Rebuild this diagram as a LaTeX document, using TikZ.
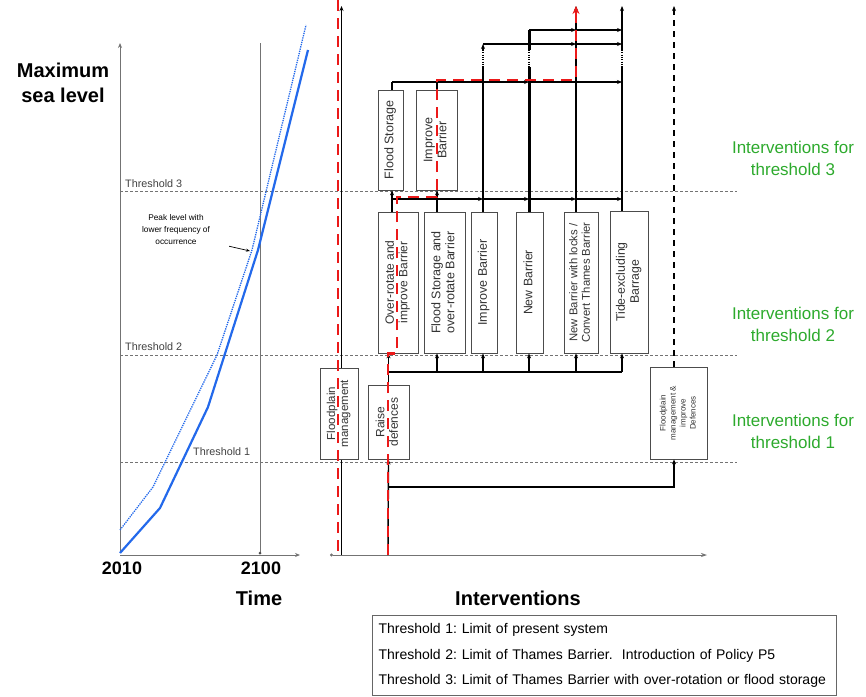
\documentclass[tikz,border=0pt]{standalone}
\usepackage{fontspec}
\setmainfont{Liberation Sans}
\usepackage{graphicx}
\usetikzlibrary{arrows.meta, positioning, calc}

\definecolor{SeaBlue}{RGB}{35, 105, 235}
\definecolor{RouteRed}{RGB}{235, 25, 25}
\definecolor{LabelGreen}{RGB}{45, 170, 45}
\definecolor{AxisGrey}{RGB}{115, 115, 115}

\newcommand{\vlabel}[1]{\rotatebox{90}{\begin{tabular}{@{}c@{}}#1\end{tabular}}}
\frenchspacing

\begin{document}
\begin{tikzpicture}[x=1pt, y=-1pt, >={Stealth[length=5pt, width=4pt]},
    every node/.style={inner sep=0pt},
    optbox/.style={draw=black!70, line width=0.8pt, fill=white, align=center, text=black!80},
    thr/.style={black!55, line width=0.7pt, dash pattern=on 3pt off 2pt},
    link/.style={black, line width=1.4pt},
    lane/.style={black, line width=2pt},
    route/.style={RouteRed, line width=2.8pt, dash pattern=on 11pt off 7pt},
    axis/.style={AxisGrey, line width=0.8pt},
    greenlabel/.style={LabelGreen, align=center, font=\fontsize{17}{22}\selectfont},
    biglabel/.style={align=center, font=\fontsize{20}{25}\selectfont\bfseries}]
    \useasboundingbox (0,0) rectangle (866,696);

    % lanes and bus heights
    \foreach \n/\x in {1/392, 2/437, 3/483, 4/529, 5/576, 6/622, 7/674}
        \coordinate (L\n) at (\x,0);
    \coordinate (top) at (0,6);
    \coordinate (bus0) at (0,487);
    \coordinate (bus1) at (0,372);
    \coordinate (bus2) at (0,199);
    \coordinate (bus3) at (0,82);
    \coordinate (bus4) at (0,44);
    \coordinate (bus5) at (0,30);
    \coordinate (redturn) at (0,197);
    \coordinate (redtop) at (0,80);
    \coordinate (gapa) at (0,50);
    \coordinate (gapb) at (0,67);
    \coordinate (o1) at (341.5,555);
    \coordinate (o2) at (388,555);
    \coordinate (r1) at (338,0);
    \coordinate (r2) at (338,555);

    % sea level chart
    \node[biglabel] (ylab) at (63,83) {Maximum\\sea level};
    \draw[axis, ->] (120,553) -- (120,43);
    \draw[axis] (260,43) -- (260,553);
    \draw[axis, ->] (120,555) -- (300,555);
    \fill[black!70] (260,553) circle (1.5pt);
    \node[font=\fontsize{18}{20}\selectfont\bfseries] (y2010) at (122,568) {2010};
    \node[font=\fontsize{18}{20}\selectfont\bfseries] (y2100) at (261,568) {2100};
    \node[biglabel] (tlab) at (259,598) {Time};

    % thresholds
    \draw[thr] (120,191) -- (737,191);
    \draw[thr] (120,355) -- (737,355);
    \draw[thr] (120,462) -- (737,462);
    \node[anchor=base west, font=\fontsize{10.8}{12}\selectfont, text=black!75] (t3lab) at (125,187) {Threshold 3};
    \node[anchor=base west, font=\fontsize{10.8}{12}\selectfont, text=black!75] (t2lab) at (125,350) {Threshold 2};
    \node[anchor=base west, font=\fontsize{10.8}{12}\selectfont, text=black!75] (t1lab) at (193,455) {Threshold 1};

    % sea level curves
    \draw[SeaBlue, line width=2.2pt, line join=round] (120,553) -- (160,508) -- (208,407) -- (258,250) -- (308,50);
    \draw[SeaBlue, line width=1.3pt, densely dotted] (120,530) -- (153,487) -- (217,355) -- (252,250) -- (306,25);
    \node[align=center, font=\fontsize{8.3}{12}\selectfont] (peak) at (176,230) {Peak level with\\lower frequency of\\occurrence};
    \draw[->, line width=0.7pt, >={Stealth[length=4pt, width=3pt]}] ([xshift=19pt, yshift=-1pt]peak.south east) -- (250,251);

    % interventions axis
    \draw[black, line width=1.4pt, ->] (o1) -- (o1 |- top);
    \draw[axis, {Circle[length=3pt]}-{Stealth[length=6pt, width=4pt]}] (330,555) -- (707,555);
    \node[biglabel] (ilab) at (518,598) {Interventions};

    % options
    \node[optbox, minimum width=25pt, minimum height=100pt, font=\fontsize{12.5}{14}\selectfont] (fs3) at (390.5,140) {\vlabel{Flood Storage}};
    \node[optbox, minimum width=41pt, minimum height=100pt, font=\fontsize{12.5}{14}\selectfont] (ib3) at (436.5,140) {\vlabel{Improve\\Barrier}};
    \node[optbox, minimum width=40pt, minimum height=141pt, font=\fontsize{12}{13.5}\selectfont] (b1) at (398,282.5) {\vlabel{Over-rotate and\\improve Barrier}};
    \node[optbox, minimum width=41pt, minimum height=141pt, font=\fontsize{12.5}{14}\selectfont] (b2) at (444.5,282.5) {\vlabel{Flood Storage and\\over-rotate Barrier}};
    \node[optbox, minimum width=26pt, minimum height=141pt, font=\fontsize{12.5}{14}\selectfont] (b3) at (484,282.5) {\vlabel{Improve Barrier}};
    \node[optbox, minimum width=27pt, minimum height=141pt, font=\fontsize{12.3}{14}\selectfont] (b4) at (529.5,282.5) {\vlabel{New Barrier}};
    \node[optbox, minimum width=34pt, minimum height=141pt, font=\fontsize{11.3}{12.5}\selectfont] (b5) at (581,282.5) {\vlabel{New Barrier with locks /\\Convert Thames Barrier}};
    \node[optbox, minimum width=38pt, minimum height=142pt, font=\fontsize{12.3}{14}\selectfont] (b6) at (629,282) {\vlabel{Tide-excluding\\Barrage}};
    \node[optbox, minimum width=38pt, minimum height=91pt, font=\fontsize{11.5}{13}\selectfont] (fm) at (339,413.5) {\vlabel{Floodplain\\management}};
    \node[optbox, minimum width=41pt, minimum height=74pt, font=\fontsize{12}{13.5}\selectfont] (rd) at (388.5,422) {\vlabel{Raise\\defences}};
    \node[optbox, minimum width=57pt, minimum height=92pt, font=\fontsize{8}{10}\selectfont] (fmi) at (678.5,413) {\vlabel{Floodplain\\management \&\\improve\\Defences}};

    % threshold 1 to threshold 2
    \draw[link, ->] (o2) -- (rd.south);
    \draw[link, ->] (o2 |- bus0) -| (L7 |- fmi.south);
    \draw[link] (rd.north) -- (rd.north |- bus1) -- (L6 |- bus1);
    \draw[link, ->] (rd.north |- bus1) -- (rd.north |- b1.south);
    \foreach \b/\l in {b2/L2, b3/L3, b4/L4, b5/L5, b6/L6}
        \draw[link, ->] (\l |- bus1) -- (\l |- \b.south);
    \draw[black, line width=1.2pt, dash pattern=on 6pt off 5pt, ->] (L7 |- fmi.north) -- (L7 |- top);

    % threshold 2 to threshold 3
    \draw[link, ->] (L1 |- b1.north) -- (L1 |- fs3.south);
    \draw[link, ->] (L2 |- b2.north) -- (L2 |- ib3.south);
    \draw[link, ->] (L1 |- bus2) -- (L3 |- bus2);
    \foreach \a/\b in {L3/L4, L4/L5, L5/L6}
        \draw[link, ->] (\a |- bus2) -- (\b |- bus2);
    \draw[link] (L1 |- fs3.north) -- (L1 |- bus3);
    \draw[link] (L2 |- ib3.north) -- (L2 |- bus3);
    \draw[link, ->] (L1 |- bus3) -- (L4 |- bus3);
    \draw[link, ->] (L4 |- bus3) -- (L6 |- bus3);

    % long lanes
    \draw[lane, ->] (L3 |- b3.north) -- (L3 |- bus4);
    \draw[lane, line width=3pt] (L4 |- b4.north) -- (L4 |- bus5);
    \draw[lane, ->] (L5 |- b5.north) -- (L5 |- top);
    \draw[lane, ->] (L6 |- b6.north) -- (L6 |- top);
    \draw[link, ->] (L3 |- bus4) -- (L5 |- bus4);
    \draw[link, ->] (L5 |- bus4) -- (L6 |- bus4);
    \draw[link, ->] (L4 |- bus5) -- (L5 |- bus5);
    \draw[link, ->] (L5 |- bus5) -- (L6 |- bus5);
    \foreach \l in {L3, L4, L6} {
        \draw[white, line width=3.5pt] (\l |- gapa) -- (\l |- gapb);
        \draw[black, line width=2pt, dash pattern=on 1pt off 1.3pt] (\l |- gapa) -- (\l |- gapb);
    }

    % adaptation routes
    \draw[route] (r1) -- (r2);
    \draw[route, -{Stealth[length=8pt, width=7pt]}] (o2) -- (o2 |- b1.south) -- ([xshift=-1pt]b1.south)
        -- ([xshift=-1pt]b1.south |- redturn) -| (L2 |- redtop) -| (L5 |- top);

    % threshold labels
    \node[greenlabel] (g3) at (793,158) {Interventions for\\threshold 3};
    \node[greenlabel] (g2) at (793,324) {Interventions for\\threshold 2};
    \node[greenlabel] (g1) at (793,431) {Interventions for\\threshold 1};

    % key
    \node[draw=black!60, line width=1pt, anchor=north west, text width=452pt, minimum height=80pt, inner xsep=6pt, align=left, font=\fontsize{14}{25.5}\selectfont] (key) at (372,615) {Threshold 1: Limit of present system\\Threshold 2: Limit of Thames Barrier.\ \ Introduction of Policy P5\\Threshold 3: Limit of Thames Barrier with over-rotation or flood storage};
\end{tikzpicture}
\end{document}
